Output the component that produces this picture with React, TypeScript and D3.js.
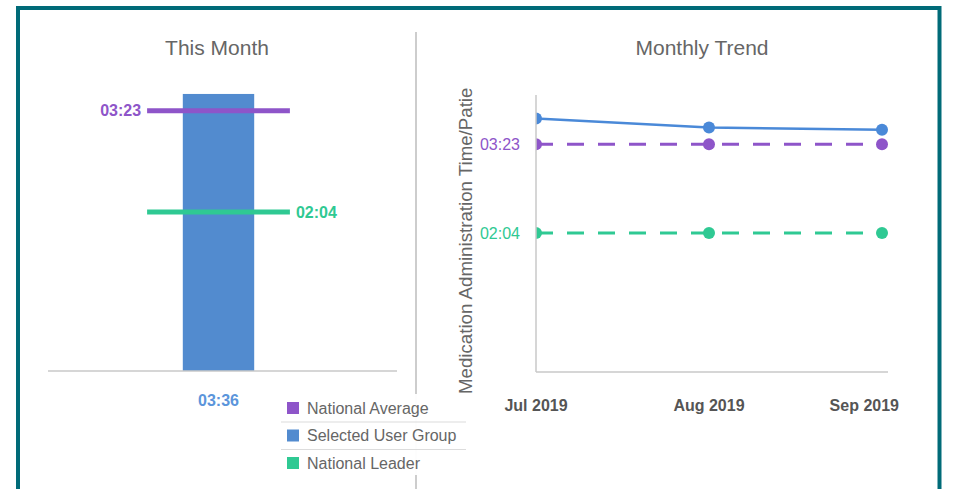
import React, { useEffect, useRef } from 'react';
import * as d3 from 'd3';

// values are seconds (mm:ss)
const thisMonthLabel = ['This Month'];
const thisMonthValue = [216];
const nationalAverage = [203];
const nationalLeader = [124];

const months = ['Jul 2019', 'Aug 2019', 'Sep 2019'];
const selectedGroupTrend = [226, 218, 216];
const nationalAverageTrend = [203, 203, 203];
const nationalLeaderTrend = [124, 124, 124];

const legendLabels = ['National Average', 'Selected User Group', 'National Leader'];

const COLORS = {
  avg: '#8E55C9',
  group: '#528BCF',
  groupLine: '#4A89D8',
  leader: '#2FC993',
  border: '#006B78',
  text: '#666666',
  axis: '#c8c8c8',
};

const fmt = (s: number) => {
  const m = Math.floor(s / 60);
  const sec = s % 60;
  return `${String(m).padStart(2, '0')}:${String(sec).padStart(2, '0')}`;
};

const App = () => {
  const ref = useRef<SVGSVGElement | null>(null);

  useEffect(() => {
    const W = 956;
    const H = 489;
    const font = '"Liberation Sans", Arial, sans-serif';
    const svg = d3.select(ref.current);
    svg.selectAll('*').remove();
    svg.attr('width', W).attr('height', H).style('font-family', font);

    svg.append('rect').attr('width', W).attr('height', H).attr('fill', '#fff');

    // frame
    svg
      .append('rect')
      .attr('x', 18)
      .attr('y', 8)
      .attr('width', 921.5)
      .attr('height', 700)
      .attr('fill', 'none')
      .attr('stroke', COLORS.border)
      .attr('stroke-width', 4);

    // divider
    svg
      .append('line')
      .attr('x1', 416)
      .attr('x2', 416)
      .attr('y1', 32)
      .attr('y2', H)
      .attr('stroke', '#bdbdbd')
      .attr('stroke-width', 1.5);

    // ---------- Left: This Month ----------
    svg
      .append('text')
      .attr('x', 217)
      .attr('y', 55)
      .attr('text-anchor', 'middle')
      .attr('fill', COLORS.text)
      .style('font-size', '21px')
      .text('This Month');

    const xL = d3.scaleBand().domain(thisMonthLabel).range([40, 397]).paddingInner(0).paddingOuter(2);
    const yL = d3.scaleLinear().domain([0, 230]).range([371, 76]);
    const bw = xL.bandwidth();
    const cx = (xL(thisMonthLabel[0]) as number) + bw / 2;

    svg
      .selectAll('.bar')
      .data(thisMonthValue)
      .enter()
      .append('rect')
      .attr('x', xL(thisMonthLabel[0]) as number)
      .attr('y', (d) => yL(d))
      .attr('width', bw)
      .attr('height', (d) => yL(0) - yL(d))
      .attr('fill', COLORS.group);

    svg
      .append('line')
      .attr('x1', 48)
      .attr('x2', 397)
      .attr('y1', yL(0))
      .attr('y2', yL(0))
      .attr('stroke', COLORS.axis)
      .attr('stroke-width', 1.5);

    svg
      .selectAll('.barlabel')
      .data(thisMonthValue)
      .enter()
      .append('text')
      .attr('x', cx)
      .attr('y', yL(0) + 35)
      .attr('text-anchor', 'middle')
      .attr('fill', '#5B95DB')
      .style('font-size', '16px')
      .style('font-weight', 'bold')
      .text((d) => fmt(d));

    const refs = [
      { v: nationalAverage[0], color: COLORS.avg, side: 'left' },
      { v: nationalLeader[0], color: COLORS.leader, side: 'right' },
    ];
    refs.forEach((r) => {
      svg
        .append('line')
        .attr('x1', cx - bw)
        .attr('x2', cx + bw)
        .attr('y1', yL(r.v))
        .attr('y2', yL(r.v))
        .attr('stroke', r.color)
        .attr('stroke-width', 5);
      svg
        .append('text')
        .attr('x', r.side === 'left' ? cx - bw - 6 : cx + bw + 6)
        .attr('y', yL(r.v))
        .attr('dy', '0.35em')
        .attr('text-anchor', r.side === 'left' ? 'end' : 'start')
        .attr('fill', r.color)
        .style('font-size', '16px')
        .style('font-weight', 'bold')
        .text(fmt(r.v));
    });

    // ---------- Right: Monthly Trend ----------
    svg
      .append('text')
      .attr('x', 702)
      .attr('y', 55)
      .attr('text-anchor', 'middle')
      .attr('fill', COLORS.text)
      .style('font-size', '21px')
      .text('Monthly Trend');

    const x0 = 536;
    const xEnd = 888;
    const xR = d3.scalePoint().domain(months).range([x0, 882]);
    const yR = d3.scaleLinear().domain([0, 247]).range([372, 95]);

    svg
      .append('defs')
      .append('clipPath')
      .attr('id', 'plotclip')
      .append('rect')
      .attr('x', x0)
      .attr('y', 80)
      .attr('width', xEnd - x0 + 4)
      .attr('height', 300);

    const plot = svg.append('g').attr('clip-path', 'url(#plotclip)');

    const series = [
      { values: nationalLeaderTrend, color: COLORS.leader, dash: '17,14', width: 3 },
      { values: nationalAverageTrend, color: COLORS.avg, dash: '17,14', width: 3 },
      { values: selectedGroupTrend, color: COLORS.groupLine, dash: null, width: 2.5 },
    ];

    const line = d3
      .line<number>()
      .x((_, i) => xR(months[i]) as number)
      .y((d) => yR(d));

    series.forEach((s) => {
      plot
        .append('path')
        .datum(s.values)
        .attr('fill', 'none')
        .attr('stroke', s.color)
        .attr('stroke-width', s.width)
        .attr('stroke-dasharray', s.dash)
        .attr('d', line);
      plot
        .selectAll(null)
        .data(s.values)
        .enter()
        .append('circle')
        .attr('cx', (_, i) => xR(months[i]) as number)
        .attr('cy', (d) => yR(d))
        .attr('r', 6)
        .attr('fill', s.color);
    });

    // axes
    svg
      .append('line')
      .attr('x1', x0)
      .attr('x2', x0)
      .attr('y1', yR(247))
      .attr('y2', yR(0))
      .attr('stroke', COLORS.axis)
      .attr('stroke-width', 1.5);
    svg
      .append('line')
      .attr('x1', x0)
      .attr('x2', xEnd)
      .attr('y1', yR(0))
      .attr('y2', yR(0))
      .attr('stroke', COLORS.axis)
      .attr('stroke-width', 1.5);

    // y ticks
    [
      { v: nationalAverageTrend[0], color: COLORS.avg },
      { v: nationalLeaderTrend[0], color: COLORS.leader },
    ].forEach((t) => {
      svg
        .append('text')
        .attr('x', x0 - 16)
        .attr('y', yR(t.v))
        .attr('dy', '0.35em')
        .attr('text-anchor', 'end')
        .attr('fill', t.color)
        .style('font-size', '16px')
        .text(fmt(t.v));
    });

    // x ticks
    svg
      .selectAll('.xtick')
      .data(months)
      .enter()
      .append('text')
      .attr('y', yR(0) + 39)
      .attr('text-anchor', 'middle')
      .attr('fill', '#555')
      .style('font-size', '16px')
      .style('font-weight', 'bold')
      .text((d) => d)
      .attr('x', function (d) {
        const half = (this as SVGTextElement).getComputedTextLength() / 2;
        return Math.min(xR(d) as number, 899 - half);
      });

    // y axis title
    svg
      .append('text')
      .attr('transform', `translate(472,394) rotate(-90)`)
      .attr('text-anchor', 'start')
      .attr('fill', COLORS.text)
      .style('font-size', '18.7px')
      .text('Medication Administration Time/Patie');

    // ---------- Legend ----------
    const legend = svg.append('g');
    legend
      .append('rect')
      .attr('x', 281)
      .attr('y', 394)
      .attr('width', 185)
      .attr('height', 81)
      .attr('fill', '#fff')
      .attr('opacity', 0.95);

    const legendColors = [COLORS.avg, COLORS.group, COLORS.leader];
    const ly = d3.scalePoint().domain(legendLabels).range([408, 463]);

    legend
      .selectAll('.sep')
      .data(legendLabels.slice(0, 2))
      .enter()
      .append('line')
      .attr('x1', 281)
      .attr('x2', 466)
      .attr('y1', (d) => (ly(d) as number) + 14)
      .attr('y2', (d) => (ly(d) as number) + 14)
      .attr('stroke', '#dcdcdc')
      .attr('stroke-width', 1.2);

    const items = legend
      .selectAll('.item')
      .data(legendLabels)
      .enter()
      .append('g')
      .attr('transform', (d) => `translate(287,${ly(d)})`);
    items
      .append('rect')
      .attr('x', 0)
      .attr('y', -6)
      .attr('width', 12)
      .attr('height', 12)
      .attr('fill', (_, i) => legendColors[i]);
    items
      .append('text')
      .attr('x', 20)
      .attr('dy', '0.35em')
      .attr('fill', COLORS.text)
      .style('font-size', '16px')
      .text((d) => d);
  }, []);

  return (
    <div style={{ position: 'absolute', left: 0, top: 0 }}>
      <svg ref={ref} style={{ display: 'block' }} />
    </div>
  );
};

export default App;
